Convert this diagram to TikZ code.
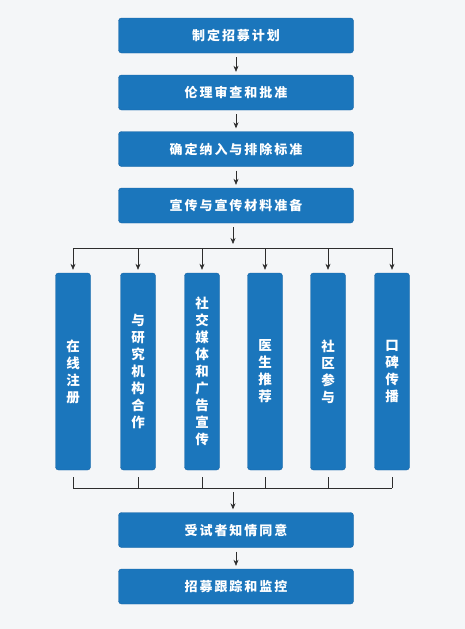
\documentclass[tikz,border=0pt]{standalone}
\usepackage{fontspec}
\newfontfamily\cjk[LetterSpace=15]{Noto Sans CJK SC}
\newfontfamily\cjkv{Noto Sans CJK SC}
\definecolor{stepblue}{RGB}{27,118,188}
\definecolor{stepedge}{RGB}{22,100,165}
\definecolor{linegray}{RGB}{45,45,45}
\definecolor{pagebg}{RGB}{244,246,248}
\usetikzlibrary{arrows.meta,positioning,calc}

\begin{document}
\begin{tikzpicture}[
  x=1pt,y=-1pt,
  stepbox/.style={draw=stepedge,fill=stepblue,rounded corners=3pt,text=white,
                  minimum width=235pt,minimum height=35pt,inner sep=0pt,
                  font=\cjk\bfseries\fontsize{13}{15}\selectfont},
  channel/.style={draw=stepedge,fill=stepblue,rounded corners=3pt,text=white,
                  minimum width=35pt,minimum height=197pt,inner sep=0pt,
                  align=center,text width=20pt,
                  font=\cjkv\bfseries\fontsize{13.5}{17}\selectfont},
  arr/.style={-{Stealth[length=6pt,width=5pt]},semithick,linegray,
              shorten <=4pt,shorten >=3pt},
  bus/.style={semithick,linegray},
]
  % background
  \fill[pagebg] (0,0) rectangle (465,629);
  \useasboundingbox (0,0) rectangle (465,629);

  % main steps
  \node[stepbox] (plan)   at (236,35.5)  {制定招募计划};
  \node[stepbox] (ethics) at (236,92.5)  {伦理审查和批准};
  \node[stepbox] (crit)   at (236,149)   {确定纳入与排除标准};
  \node[stepbox] (promo)  at (236,205.5) {宣传与宣传材料准备};

  \draw[arr] (plan) -- (ethics);
  \draw[arr] (ethics) -- (crit);
  \draw[arr] (crit) -- (promo);

  % recruitment channels
  \node[channel] (ch1) at (73,371.5)  {在\\线\\注\\册};
  \node[channel] (ch2) at (138,371.5) {与\\研\\究\\机\\构\\合\\作};
  \node[channel] (ch3) at (202,371.5) {社\\交\\媒\\体\\和\\广\\告\\宣\\传};
  \node[channel] (ch4) at (265,371.5) {医\\生\\推\\荐};
  \node[channel] (ch5) at (328,371.5) {社\\区\\参\\与};
  \node[channel] (ch6) at (392,371.5) {口\\碑\\传\\播};

  % fan out
  \coordinate (fanin) at (233,246);
  \coordinate (topbus) at (0,248);
  \draw[arr,shorten >=2pt] (promo.south -| fanin) -- (fanin);
  \draw[bus] (ch1.north |- topbus) -- (ch6.north |- topbus);
  \draw[arr,shorten <=0pt] (ch1.north |- topbus) -- (ch1);
  \draw[arr,shorten <=0pt] (ch2.north |- topbus) -- (ch2);
  \draw[arr,shorten <=0pt] (ch3.north |- topbus) -- (ch3);
  \draw[arr,shorten <=0pt] (ch4.north |- topbus) -- (ch4);
  \draw[arr,shorten <=0pt] (ch5.north |- topbus) -- (ch5);
  \draw[arr,shorten <=0pt] (ch6.north |- topbus) -- (ch6);

  % fan in
  \coordinate (lowbus) at (0,488);
  \draw[bus] (ch1.south |- lowbus) -- (ch6.south |- lowbus);
  \draw[bus] ($(ch1.south)+(0,7)$) -- (ch1.south |- lowbus);
  \draw[bus] ($(ch2.south)+(0,7)$) -- (ch2.south |- lowbus);
  \draw[bus] ($(ch3.south)+(0,7)$) -- (ch3.south |- lowbus);
  \draw[bus] ($(ch4.south)+(0,7)$) -- (ch4.south |- lowbus);
  \draw[bus] ($(ch5.south)+(0,7)$) -- (ch5.south |- lowbus);
  \draw[bus] ($(ch6.south)+(0,7)$) -- (ch6.south |- lowbus);

  % final steps
  \node[stepbox] (consent) at (236,530)   {受试者知情同意};
  \node[stepbox] (track)   at (236,586.5) {招募跟踪和监控};

  \coordinate (fanout) at (233,492);
  \draw[arr,shorten <=0pt] (fanout) -- (fanout |- consent.north);
  \draw[arr] (consent) -- (track);
\end{tikzpicture}
\end{document}
